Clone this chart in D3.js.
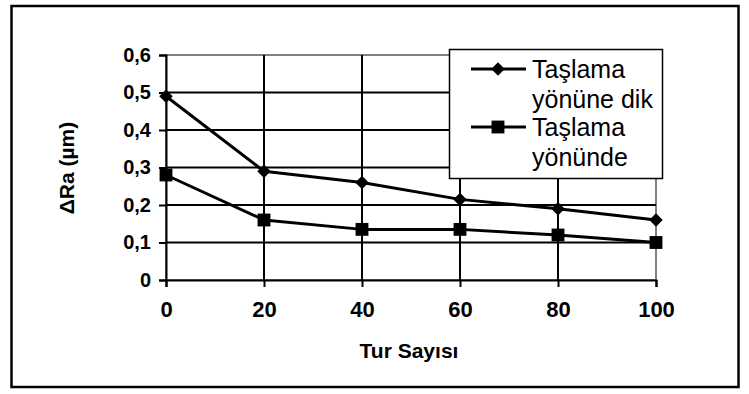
<!DOCTYPE html>
<html>
<head>
<meta charset="utf-8">
<script src="https://cdn.jsdelivr.net/npm/d3@7"></script>
<style>
  html, body { margin: 0; padding: 0; background: #fff; }
  svg { display: block; font-family: "Liberation Sans", Arial, sans-serif; }
</style>
</head>
<body>
<svg id="chart" width="749" height="394"></svg>
<script>
// Surface roughness change versus number of passes
const turSayisi = [0, 20, 40, 60, 80, 100];
const yonuneDik = [0.49, 0.29, 0.26, 0.215, 0.19, 0.16];
const yonunde   = [0.28, 0.16, 0.135, 0.135, 0.12, 0.10];
const yTicks = [0, 0.1, 0.2, 0.3, 0.4, 0.5, 0.6];
const yTickLabels = ["0", "0,1", "0,2", "0,3", "0,4", "0,5", "0,6"];
const xTicks = [0, 20, 40, 60, 80, 100];
const seriesNames = [["Taşlama", "yönüne dik"], ["Taşlama", "yönünde"]];
const xTitle = "Tur Sayısı";
const yTitle = "ΔRa (µm)";

const svg = d3.select("#chart");

// outer frame
svg.append("rect")
  .attr("x", 11.5).attr("y", 6).attr("width", 727).attr("height", 381)
  .attr("fill", "none").attr("stroke", "#000").attr("stroke-width", 2.5);

const plot = { left: 166, right: 656, top: 55, bottom: 280 };
const x = d3.scaleLinear().domain([0, 100]).range([plot.left, plot.right]);
const y = d3.scaleLinear().domain([0, 0.6]).range([plot.bottom, plot.top]);

// plot area border (gray)
svg.append("rect")
  .attr("x", plot.left).attr("y", plot.top)
  .attr("width", plot.right - plot.left).attr("height", plot.bottom - plot.top)
  .attr("fill", "none").attr("stroke", "#808080").attr("stroke-width", 2);

// horizontal gridlines
svg.append("g").selectAll("line")
  .data(yTicks.filter(d => d > 0 && d < 0.6))
  .join("line")
  .attr("x1", plot.left).attr("x2", plot.right)
  .attr("y1", d => y(d)).attr("y2", d => y(d))
  .attr("stroke", "#000").attr("stroke-width", 2);

// vertical gridlines
svg.append("g").selectAll("line")
  .data(xTicks.filter(d => d > 0 && d < 100))
  .join("line")
  .attr("x1", d => x(d)).attr("x2", d => x(d))
  .attr("y1", plot.top).attr("y2", plot.bottom)
  .attr("stroke", "#000").attr("stroke-width", 2);

// y axis
const yAxis = d3.axisLeft(y).tickValues(yTicks)
  .tickFormat((d, i) => yTickLabels[i]).tickSize(7).tickPadding(8);
const gy = svg.append("g").attr("transform", `translate(${plot.left},0)`).call(yAxis);
gy.select(".domain").attr("stroke", "#000").attr("stroke-width", 2);
gy.selectAll(".tick line").attr("stroke", "#000").attr("stroke-width", 2);
gy.selectAll(".tick text")
  .attr("fill", "#000").attr("font-size", 20).attr("font-weight", "bold")
  .attr("font-family", "'Liberation Sans', Arial, sans-serif");

// x axis
const xAxis = d3.axisBottom(x).tickValues(xTicks).tickSize(7).tickPadding(14);
const gx = svg.append("g").attr("transform", `translate(0,${plot.bottom})`).call(xAxis);
gx.select(".domain").attr("stroke", "#000").attr("stroke-width", 2);
gx.selectAll(".tick line").attr("stroke", "#000").attr("stroke-width", 2);
gx.selectAll(".tick text")
  .attr("fill", "#000").attr("font-size", 22).attr("font-weight", "bold")
  .attr("font-family", "'Liberation Sans', Arial, sans-serif");

// axis titles
svg.append("text")
  .attr("x", 409).attr("y", 358)
  .attr("text-anchor", "middle")
  .attr("font-size", 21).attr("font-weight", "bold")
  .text(xTitle);

svg.append("text")
  .attr("transform", "translate(74,168) rotate(-90)")
  .attr("text-anchor", "middle")
  .attr("font-size", 21).attr("font-weight", "bold")
  .text(yTitle);

// series lines and markers
const line = d3.line().x((d, i) => x(turSayisi[i])).y(d => y(d));
const markerPath = {
  diamond: d3.symbol().type(d3.symbolDiamond2).size(115)(),
  square: d3.symbol().type(d3.symbolSquare).size(165)()
};

function drawSeries(values, kind) {
  svg.append("path")
    .datum(values)
    .attr("d", line)
    .attr("fill", "none").attr("stroke", "#000").attr("stroke-width", 3)
    .attr("stroke-linejoin", "round");
  svg.append("g").selectAll("path")
    .data(values)
    .join("path")
    .attr("transform", (d, i) => `translate(${x(turSayisi[i])},${y(d)})`)
    .attr("d", markerPath[kind])
    .attr("fill", "#000");
}
drawSeries(yonuneDik, "diamond");
drawSeries(yonunde, "square");

// legend
const lg = svg.append("g");
lg.append("rect")
  .attr("x", 449.5).attr("y", 49.5).attr("width", 213).attr("height", 129)
  .attr("fill", "#fff").attr("stroke", "#000").attr("stroke-width", 1.5);

const legendRows = [
  { kind: "diamond", y: 69, names: seriesNames[0] },
  { kind: "square", y: 127, names: seriesNames[1] }
];
legendRows.forEach(r => {
  lg.append("line")
    .attr("x1", 471).attr("x2", 526).attr("y1", r.y).attr("y2", r.y)
    .attr("stroke", "#000").attr("stroke-width", 3);
  lg.append("path")
    .attr("transform", `translate(498,${r.y})`)
    .attr("d", markerPath[r.kind])
    .attr("fill", "#000");
  const t = lg.append("text")
    .attr("x", 532).attr("y", r.y + 9)
    .attr("font-size", 25).attr("fill", "#000");
  t.append("tspan").attr("x", 532).text(r.names[0]);
  t.append("tspan").attr("x", 532).attr("dy", 29.5).text(r.names[1]);
});
</script>
</body>
</html>
